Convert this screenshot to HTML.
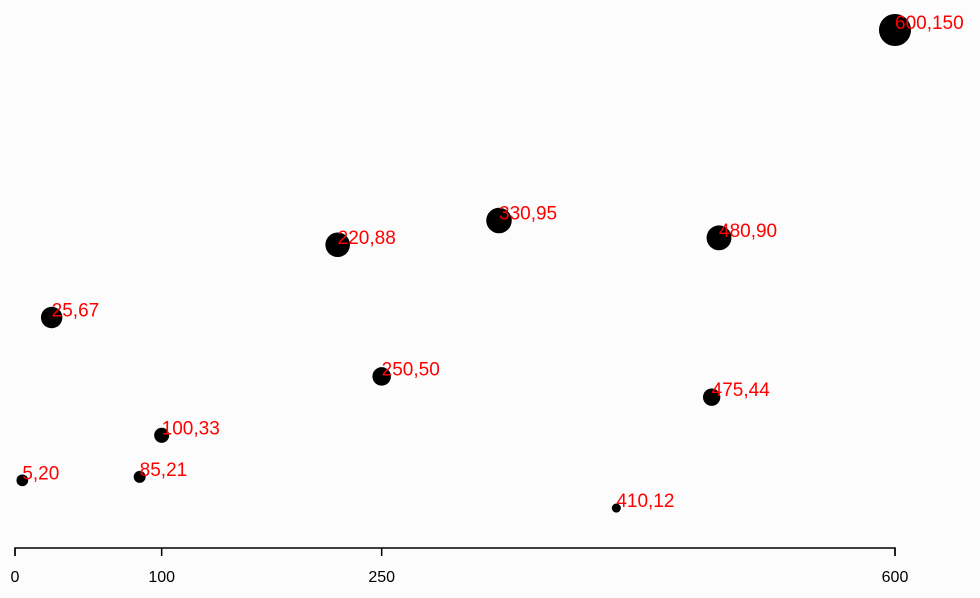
<!DOCTYPE html>
<html><head><meta charset="utf-8">
<style>
html,body{margin:0;padding:0;background:#fcfcfc;}
svg{display:block;font-family:"Liberation Sans",sans-serif;}
</style></head>
<body>
<svg id="chart" width="980" height="598" viewBox="0 0 980 598"></svg>
<script>
const xValues = [5, 480, 250, 100, 330, 410, 475, 25, 85, 220, 600];
const yValues = [20, 90, 50, 33, 95, 12, 44, 67, 21, 88, 150];
const xTicks = [0, 100, 250, 600];

const NS = "http://www.w3.org/2000/svg";
const svg = document.getElementById("chart");
function xScale(v){ return 15 + v * (880/600); }
function yScale(v){ return 30 + (150 - v) * 3.464; }
function rScale(v){ return 1.31 * Math.sqrt(v); }

for (let i = 0; i < xValues.length; i++) {
  const cx = xScale(xValues[i]), cy = yScale(yValues[i]);
  const c = document.createElementNS(NS, "circle");
  c.setAttribute("cx", cx); c.setAttribute("cy", cy);
  c.setAttribute("r", rScale(yValues[i]));
  c.setAttribute("fill", "#000");
  
  
  svg.appendChild(c);
  const t = document.createElementNS(NS, "text");
  t.setAttribute("x", cx); t.setAttribute("y", cy - 1);
  t.setAttribute("fill", "#ff0000");
  t.setAttribute("font-size", "19");
  t.textContent = xValues[i] + "," + yValues[i];
  
  
  svg.appendChild(t);
}

const axis = document.createElementNS(NS, "path");
axis.setAttribute("d", "M" + xScale(0) + ",556V548H" + xScale(600) + "V556");
axis.setAttribute("fill", "none");
axis.setAttribute("stroke", "#000");
axis.setAttribute("stroke-width", "1.5");


svg.appendChild(axis);

for (const v of xTicks) {
  const x = xScale(v);
  const l = document.createElementNS(NS, "line");
  l.setAttribute("x1", x); l.setAttribute("x2", x);
  l.setAttribute("y1", 548); l.setAttribute("y2", 556);
  l.setAttribute("stroke", "#000");
  l.setAttribute("stroke-width", "1.5");
  
  
  svg.appendChild(l);
  const t = document.createElementNS(NS, "text");
  t.setAttribute("x", x); t.setAttribute("y", 582);
  t.setAttribute("text-anchor", "middle");
  t.setAttribute("font-size", "16");
  t.setAttribute("fill", "#000");
  t.textContent = v;
  
  
  svg.appendChild(t);
}
</script>
</body></html>
